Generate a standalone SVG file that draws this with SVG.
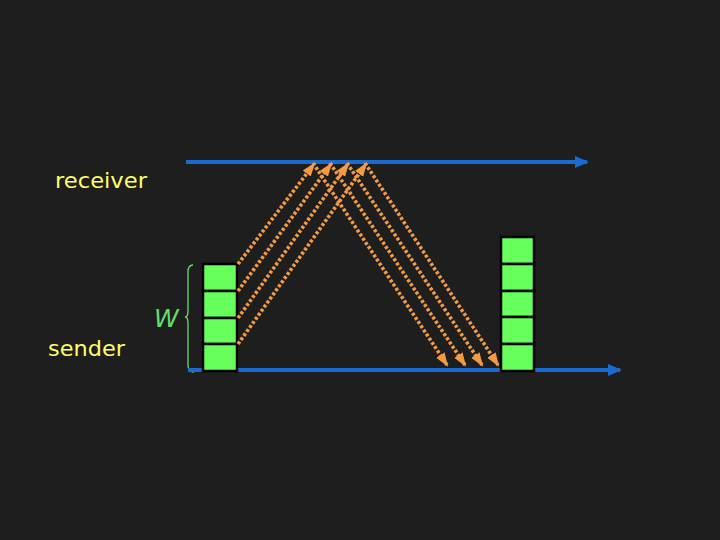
<svg xmlns="http://www.w3.org/2000/svg" width="720" height="540" viewBox="0 0 720 540">
<style>
.lbl{font-family:"DejaVu Sans","Liberation Sans",sans-serif;font-size:22px;fill:#ffff66}
.w{font-family:"DejaVu Sans","Liberation Sans",sans-serif;font-size:25px;font-style:italic;fill:#66dd66}
.axis{stroke:#1a6ad0;stroke-width:4;fill:none}
.pkt{stroke:#f39a45;stroke-width:3.6;stroke-dasharray:3 2;fill:none}
.box{fill:#66ff5c;stroke:#000;stroke-width:2.5}
</style>
<defs>
<marker id="ab" markerUnits="userSpaceOnUse" markerWidth="14" markerHeight="14" refX="12" refY="6" orient="auto" viewBox="0 0 14 12">
<path d="M0,0 L14,6 L0,12 z" fill="#1a6ad0"/>
</marker>
<marker id="ao" markerUnits="userSpaceOnUse" markerWidth="14" markerHeight="12" refX="12" refY="5" orient="auto" viewBox="0 0 14 10">
<path d="M0,0 L14,5 L0,10 z" fill="#f39a45"/>
</marker>
</defs>
<rect width="720" height="540" fill="#1e1e1e"/>
<g id="receiver-label"><text class="lbl" x="55" y="188" textLength="92" lengthAdjust="spacingAndGlyphs">receiver</text></g>
<g id="sender-label"><text class="lbl" x="48" y="356" textLength="77" lengthAdjust="spacingAndGlyphs">sender</text></g>
<g id="w-label">
<text class="w" x="154" y="327">W</text>
<path d="M193,265 Q188,265 188,272 L188,311 Q188,317 185,317 Q188,317 188,323 L188,365 Q188,372 194,372" fill="none" stroke="#66dd66" stroke-width="1.3"/>
</g>
<g id="timelines">
<line class="axis" x1="186" y1="162" x2="587" y2="162" marker-end="url(#ab)"/>
<line class="axis" x1="188" y1="370" x2="620" y2="370" marker-end="url(#ab)"/>
</g>
<g id="sender-window">
<rect class="box" x="203" y="264" width="34" height="27"/>
<rect class="box" x="203" y="291" width="34" height="27"/>
<rect class="box" x="203" y="318" width="34" height="26"/>
<rect class="box" x="203" y="344" width="34" height="27"/>
</g>
<g id="receiver-window">
<rect class="box" x="501" y="237" width="33" height="27"/>
<rect class="box" x="501" y="264" width="33" height="27"/>
<rect class="box" x="501" y="291" width="33" height="26"/>
<rect class="box" x="501" y="317" width="33" height="27"/>
<rect class="box" x="501" y="344" width="33" height="27"/>
</g>
<g id="connectors">
<line class="pkt" x1="238" y1="264" x2="314" y2="164" marker-end="url(#ao)"/>
<line class="pkt" x1="238" y1="291" x2="331" y2="164" marker-end="url(#ao)"/>
<line class="pkt" x1="238" y1="318" x2="348" y2="164" marker-end="url(#ao)"/>
<line class="pkt" x1="238" y1="344" x2="366" y2="164" marker-end="url(#ao)"/>
<line class="pkt" x1="313" y1="163" x2="447" y2="365" marker-end="url(#ao)"/>
<line class="pkt" x1="330" y1="163" x2="465" y2="365" marker-end="url(#ao)"/>
<line class="pkt" x1="347" y1="163" x2="482" y2="365" marker-end="url(#ao)"/>
<line class="pkt" x1="365" y1="163" x2="498" y2="365" marker-end="url(#ao)"/>
</g>
</svg>
